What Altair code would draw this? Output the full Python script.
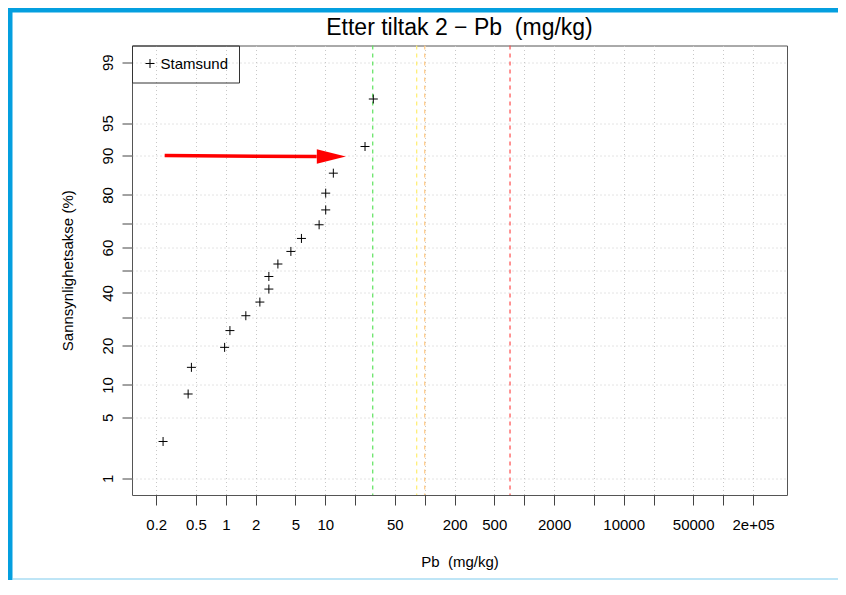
import altair as alt
import pandas as pd
from statistics import NormalDist

# ---------------- data ----------------
series_name = "Stamsund"
pb_values = [0.234, 0.418, 0.451, 0.973, 1.10, 1.59, 2.20, 2.71, 2.71, 3.34,
             4.51, 5.76, 8.67, 10.1, 10.1, 12.05, 25.1, 30.4]
prob_pct = [2.78, 8.33, 13.89, 19.44, 25.0, 30.56, 36.11, 41.67, 47.22, 52.78,
            58.33, 63.89, 69.44, 75.0, 80.56, 86.11, 91.67, 97.22]

limit_values = [30, 83, 100, 720]
limit_colors = ["#5ee35e", "#ffee70", "#ffc880", "#ff4d4d"]

arrow_start_x = [0.243]
arrow_end_x = [8.2]
arrow_head_x = [11.5]
arrow_start_p = [90.0]
arrow_end_p = [89.8]

x_ticks = [0.2, 0.5, 1, 2, 5, 10, 20, 50, 100, 200, 500, 1000, 2000, 5000,
           10000, 20000, 50000, 100000, 200000]
x_tick_labels = ["0.2", "0.5", "1", "2", "5", "10", "", "50", "", "200", "500",
                 "", "2000", "", "10000", "", "50000", "", "2e+05"]
y_ticks_pct = [1, 5, 10, 20, 30, 40, 50, 60, 70, 80, 90, 95, 99]
y_tick_labels = ["1", "5", "10", "20", "", "40", "", "60", "", "80", "90", "95", "99"]

title_text = "Etter tiltak 2 \u2212 Pb\u00a0 (mg/kg)"
x_title = "Pb\u00a0 (mg/kg)"
y_title = "Sannsynlighetsakse (%)"

FONT = "Liberation Sans"
W, H = 655, 449.5
PAD_L, PAD_T, PAD_R, PAD_B = 124, 37.5, 51, 85

# ---------------- tables ----------------
points_df = pd.DataFrame({"pb": pb_values, "p": prob_pct, "series": series_name})
limits_df = pd.DataFrame({"v": limit_values, "c": limit_colors})
arrow_df = pd.DataFrame({"x1": arrow_start_x, "x2": arrow_end_x,
                         "p1": arrow_start_p, "p2": arrow_end_p,
                         "xh": arrow_head_x})
dummy = pd.DataFrame({"a": [0]})

nd = NormalDist()
y_ticks_z = [nd.inv_cdf(p / 100.0) for p in y_ticks_pct]


def label_expr(vals, labels, rel=True):
    expr = "''"
    for v, l in reversed(list(zip(vals, labels))):
        tol = abs(v) * 1e-6 if rel else 1e-6
        tol = max(tol, 1e-9)
        expr = f"(abs(datum.value - ({v!r})) < {tol!r} ? '{l}' : {expr})"
    return expr


x_scale = alt.Scale(type="log", domain=[0.114, 438500], nice=False)
y_scale = alt.Scale(domain=[-2.5122, 2.5122], nice=False, zero=False)

common_axis = dict(grid=True, gridDash=[1, 3], gridColor="#c8c8c8", gridWidth=1,
                   domain=False, ticks=True, tickSize=10, tickColor="#444",
                   tickWidth=1, labelFont=FONT, labelFontSize=15,
                   labelColor="black", labelOverlap=False, labelFlush=False,
                   labelBound=False, titleFont=FONT, titleFontSize=15,
                   titleFontWeight="normal", titleColor="black")

x_axis = alt.Axis(values=x_ticks, labelExpr=label_expr(x_ticks, x_tick_labels),
                  title=x_title, labelAngle=0, labelAlign="center",
                  labelBaseline="alphabetic", labelPadding=24.5,
                  titleX=W / 2, titleY=71, titleAlign="center",
                  titleBaseline="alphabetic", **common_axis)
y_axis = alt.Axis(values=y_ticks_z,
                  labelExpr=label_expr(y_ticks_z, y_tick_labels, rel=False),
                  title=y_title, labelAngle=270, labelAlign="center",
                  labelBaseline="alphabetic", labelPadding=10,
                  titleAngle=270, titleX=-60, titleY=H / 2,
                  titleAlign="center", titleBaseline="alphabetic", **common_axis)

PLUS = "M-1,0L1,0M0,-1L0,1"
TRI = "M-1,-0.5L1,0L-1,0.5Z"

# ---------------- layers ----------------
frame = alt.Chart(dummy).mark_rect(fillOpacity=0, stroke="#049fdf",
                                   strokeWidth=8).encode(
    x=alt.value(-123.5), x2=alt.value(2000), y=alt.value(-37), y2=alt.value(2000))

bottom_line = alt.Chart(dummy).mark_rule(color="#a9dcf3", strokeWidth=1.5).encode(
    x=alt.value(-119), x2=alt.value(720), y=alt.value(533.5))

limits = alt.Chart(limits_df).mark_rule(strokeDash=[4, 4], strokeWidth=1.2).encode(
    x=alt.X("v:Q", scale=x_scale, axis=x_axis),
    stroke=alt.Stroke("c:N", scale=None, legend=None))

points = alt.Chart(points_df).transform_calculate(
    z="quantileNormal(datum.p / 100)"
).mark_point(shape=PLUS, filled=False, size=81, strokeWidth=1, opacity=1).encode(
    x=alt.X("pb:Q", scale=x_scale, axis=x_axis),
    y=alt.Y("z:Q", scale=y_scale, axis=y_axis),
    color=alt.Color("series:N", scale=alt.Scale(range=["black"]),
                    legend=alt.Legend(title=None, orient="none", legendX=0,
                                      legendY=0, strokeColor="#333",
                                      padding=10.5, symbolType=PLUS,
                                      symbolSize=81, symbolStrokeWidth=1,
                                      labelFont=FONT, labelFontSize=15,
                                      labelOffset=3, labelColor="black")))

arrow_shaft = alt.Chart(arrow_df).transform_calculate(
    z1="quantileNormal(datum.p1 / 100)", z2="quantileNormal(datum.p2 / 100)"
).mark_rule(color="#ff0000", strokeWidth=3.5).encode(
    x=alt.X("x1:Q", scale=x_scale, axis=x_axis), x2="x2:Q",
    y=alt.Y("z1:Q", scale=y_scale, axis=y_axis), y2="z2:Q")

arrow_head = alt.Chart(arrow_df).transform_calculate(
    z2="quantileNormal(datum.p2 / 100)"
).mark_point(shape=TRI, filled=True, size=841, color="#ff0000", opacity=1,
             strokeWidth=0).encode(
    x=alt.X("xh:Q", scale=x_scale, axis=x_axis),
    y=alt.Y("z2:Q", scale=y_scale, axis=y_axis))

title = alt.Chart(dummy).mark_text(font=FONT, fontSize=23, color="black",
                                   align="center", baseline="alphabetic").encode(
    x=alt.value(W / 2), y=alt.value(-10.5), text=alt.value(title_text))

chart = alt.layer(frame, bottom_line, limits, points, arrow_shaft, arrow_head, title).properties(
    width=W, height=H, autosize="none",
    padding={"left": PAD_L, "top": PAD_T, "right": PAD_R, "bottom": PAD_B},
    background="white",
).configure_view(stroke="#555", strokeWidth=1)

chart.save("out.html", embed_options={"renderer": "svg", "actions": False})
